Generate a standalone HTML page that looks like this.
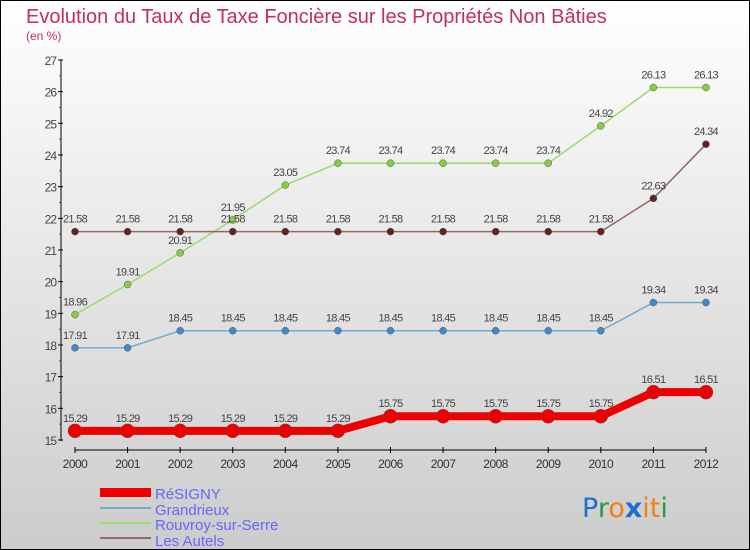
<!DOCTYPE html>
<html><head><meta charset="utf-8"><style>
body{margin:0}
#c{width:750px;height:550px;position:relative;overflow:hidden;background:linear-gradient(#ffffff,#cccccc);box-sizing:border-box;border:1px solid #000;font-family:"Liberation Sans",sans-serif}
</style></head><body>
<div id="c">
<svg id="s" width="750" height="550" style="position:absolute;left:-1px;top:-1px">
<text x="26" y="23" font-size="20" fill="#c0305a">Evolution du Taux de Taxe Foncière sur les Propriétés Non Bâties</text>
<text x="26" y="40" font-size="12" fill="#c0305a">(en %)</text>
<g id="axes"></g><g id="series"></g>
<g>
<rect x="100" y="488" width="51" height="9" fill="#ee0000"/>
<text x="155" y="499" font-size="15" fill="#6666ff">RéSIGNY</text>
<rect x="100" y="507" width="51" height="2" fill="#77aacc"/>
<text x="155" y="515" font-size="15" fill="#6666ff">Grandrieux</text>
<rect x="100" y="522" width="51" height="2" fill="#99dd66"/>
<text x="155" y="530" font-size="15" fill="#6666ff">Rouvroy-sur-Serre</text>
<rect x="100" y="537" width="51" height="2" fill="#996666"/>
<text x="155" y="546" font-size="15" fill="#6666ff">Les Autels</text>
</g>
<g font-size="27" font-family="DejaVu Sans, sans-serif">
<text x="582" y="517"><tspan fill="#1a6fd0">P</tspan><tspan fill="#2a9a3a">r</tspan><tspan fill="#f08010">o</tspan><tspan fill="#1a6fd0" font-weight="bold">x</tspan><tspan fill="#f08010">i</tspan><tspan fill="#f08010">t</tspan><tspan fill="#2a9a3a">i</tspan></text>
</g>
</svg>
</div>
<script>
const years=[2000,2001,2002,2003,2004,2005,2006,2007,2008,2009,2010,2011,2012];
const resigny=[15.29,15.29,15.29,15.29,15.29,15.29,15.75,15.75,15.75,15.75,15.75,16.51,16.51];
const grandrieux=[17.91,17.91,18.45,18.45,18.45,18.45,18.45,18.45,18.45,18.45,18.45,19.34,19.34];
const rouvroy=[18.96,19.91,20.91,21.95,23.05,23.74,23.74,23.74,23.74,23.74,24.92,26.13,26.13];
const autels=[21.58,21.58,21.58,21.58,21.58,21.58,21.58,21.58,21.58,21.58,21.58,22.63,24.34];
const yTicks=[15,16,17,18,19,20,21,22,23,24,25,26,27];
const NS="http://www.w3.org/2000/svg";
const X=i=>75+i*52.58, Y=v=>440-(v-15)*31.67;
function mk(t,a,p,name){const e=document.createElementNS(NS,t);for(const k in a)e.setAttribute(k,a[k]);


p.appendChild(e);return e;}
const ax=document.getElementById('axes'),se=document.getElementById('series');
mk('line',{x1:61,y1:60,x2:61,y2:441,stroke:'#000'},ax,'y-axis');
mk('line',{x1:75,y1:450,x2:706,y2:450,stroke:'#000'},ax,'x-axis');
yTicks.forEach(v=>{mk('line',{x1:58,y1:Y(v),x2:63,y2:Y(v),stroke:'#000'},ax,'y-tick');
const t=mk('text',{x:56,y:Y(v)+5,'font-size':12,fill:'#444','text-anchor':'end','letter-spacing':'-1'},ax,'y-tick-label');t.textContent=v;
if(v<27)mk('line',{x1:59,y1:Y(v+0.5),x2:61,y2:Y(v+0.5),stroke:'#f00'},ax,'y-minor-tick');});
years.forEach((y,i)=>{mk('line',{x1:X(i),y1:447,x2:X(i),y2:453,stroke:'#000'},ax,'x-tick');
const t=mk('text',{x:X(i),y:468,'font-size':12,fill:'#333','text-anchor':'middle','letter-spacing':'-0.5'},ax,'x-tick-label');t.textContent=y;});
function draw(vals,col,w,r,dot,name){
mk('polyline',{points:vals.map((v,i)=>X(i)+','+Y(v)).join(' '),fill:'none',stroke:col,'stroke-width':w},se,name+'-line');
vals.forEach((v,i)=>{mk('circle',{cx:X(i),cy:Y(v),r:r,fill:dot,stroke:'#555','stroke-width':0.5},se,name+'-point');
const t=mk('text',{x:X(i),y:Y(v)-9,'font-size':11,fill:'#444','text-anchor':'middle','letter-spacing':'-0.7'},se,name+'-value-label');t.textContent=v;});}
draw(rouvroy,'#99dd66',1.5,3.5,'#88cc44','rouvroy');
draw(autels,'#996666',1.5,3.5,'#662222','les-autels');
draw(grandrieux,'#77aacc',1.5,3.5,'#4488cc','grandrieux');
draw(resigny,'#ee0000',8,7,'#ee0000','resigny');
</script>
</body></html>
